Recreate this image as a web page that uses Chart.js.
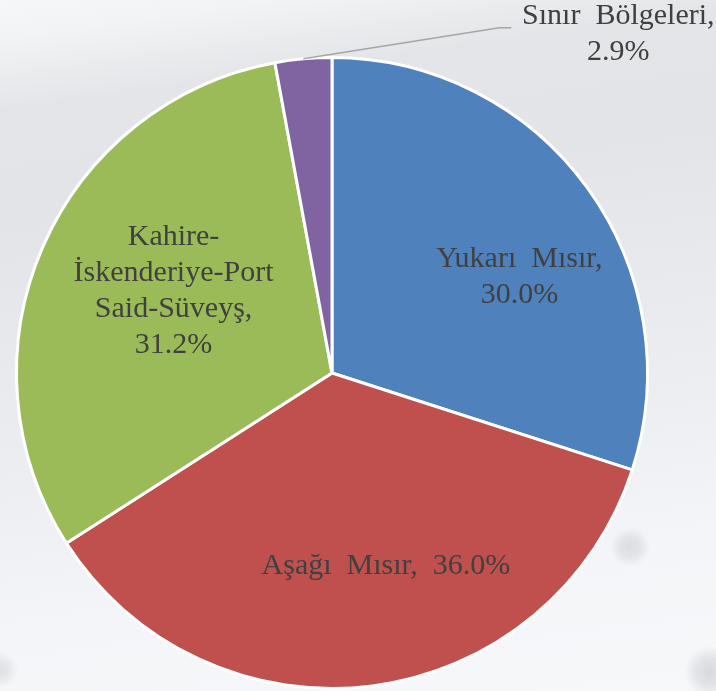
<!DOCTYPE html>
<html>
<head>
<meta charset="utf-8">
<script src="https://cdn.jsdelivr.net/npm/chart.js@4"></script>
<style>
  html, body { margin: 0; padding: 0; }
  body {
    width: 716px; height: 691px; overflow: hidden;
    background:
      radial-gradient(circle at 630px 547px, rgba(212,214,218,0.8) 0, rgba(216,217,221,0.6) 10px, rgba(220,221,224,0) 20px),
      radial-gradient(circle at 710px 672px, rgba(208,210,214,0.8) 0, rgba(214,215,219,0.6) 14px, rgba(217,218,221,0) 26px),
      radial-gradient(circle at 0px 670px, rgba(212,214,218,0.7) 0, rgba(216,217,221,0.5) 9px, rgba(220,221,224,0) 18px),
      linear-gradient(172deg, #f6f7f8 0%, #f2f3f5 5%, #e4e5e8 14%, #e3e4e7 28%, #e8e9ec 45%, #eceef1 62%, #f4f5f8 80%, #f7f8fa 100%);
  }
  #wrap { width: 716px; height: 691px; position: relative; }
</style>
</head>
<body>
<div id="wrap"><canvas id="pie"></canvas></div>
<script>
// bölgeler ve payları (%)
var regions = ['Yukarı Mısır', 'Aşağı Mısır', 'Kahire-İskenderiye-Port Said-Süveyş', 'Sınır Bölgeleri'];
var shares = [30.0, 36.0, 31.2, 2.9];
var sliceColors = ['#4f81bd', '#c0504d', '#9bbb59', '#8064a2'];

// etiket satırları (resimdeki satır kırılımları)
var labelLines = [
    ['Yukarı  Mısır,', '30.0%'],
    ['Aşağı  Mısır,  36.0%'],
    ['Kahire-', 'İskenderiye-Port', 'Said-Süveyş,', '31.2%'],
    ['Sınır  Bölgeleri,', '2.9%']
];

// etiket yerleşimi: açı kayması (derece), yarıçap oranı, dış etiket mi
var labelPlace = [
    { shift: 9, frac: 0.667 },
    { shift: -8.2, frac: 0.637 },
    { shift: 4, frac: 0.566 },
    { outside: true, elbow: [196, -31], tail: 12, textDx: 315, textDy: -43 }
];

var labelFont = '30px "Times New Roman", Times, "Liberation Serif", Tinos, "DejaVu Serif", serif';

var pieLabels = {
    id: 'pieLabels',
    afterDatasetsDraw: function (chart) {
        var ctx = chart.ctx;
        var meta = chart.getDatasetMeta(0);
        ctx.save();
        ctx.font = labelFont;
        ctx.fillStyle = '#404040';
        ctx.textAlign = 'center';
        ctx.textBaseline = 'middle';
        var lh = 36;
        meta.data.forEach(function (arc, i) {
            var p = arc.getProps(['x', 'y', 'startAngle', 'endAngle', 'outerRadius'], true);
            var mid = (p.startAngle + p.endAngle) / 2;
            var pl = labelPlace[i];
            var lines = labelLines[i];
            var cx, cy;
            if (pl.outside) {
                var ex = p.x + Math.cos(mid) * p.outerRadius;
                var ey = p.y + Math.sin(mid) * p.outerRadius;
                ctx.strokeStyle = '#a6a6a6';
                ctx.lineWidth = 1.5;
                ctx.beginPath();
                ctx.moveTo(ex, ey);
                ctx.lineTo(ex + pl.elbow[0], ey + pl.elbow[1]);
                ctx.lineTo(ex + pl.elbow[0] + pl.tail, ey + pl.elbow[1]);
                ctx.stroke();
                cx = ex + pl.textDx;
                cy = ey + pl.textDy + (lines.length - 1) * lh / 2;
            } else {
                var a = mid + pl.shift * Math.PI / 180;
                cx = p.x + Math.cos(a) * p.outerRadius * pl.frac;
                cy = p.y + Math.sin(a) * p.outerRadius * pl.frac;
            }
            var top = cy - (lines.length - 1) * lh / 2;
            lines.forEach(function (t, k) {
                ctx.fillText(t, cx, top + k * lh);
            });
        });
        ctx.restore();
    }
};

var ctx = document.getElementById('pie').getContext('2d');
new Chart(ctx, {
    type: 'pie',
    data: {
        labels: regions,
        datasets: [{
            data: shares,
            backgroundColor: sliceColors,
            borderColor: '#ffffff',
            borderWidth: 3
        }]
    },
    options: {
        responsive: true,
        maintainAspectRatio: false,
        animation: false,
        layout: { padding: { top: 56, left: 15, right: 67, bottom: 1 } },
        plugins: {
            legend: { display: false },
            tooltip: { enabled: false }
        }
    },
    plugins: [pieLabels]
});
</script>
</body>
</html>
